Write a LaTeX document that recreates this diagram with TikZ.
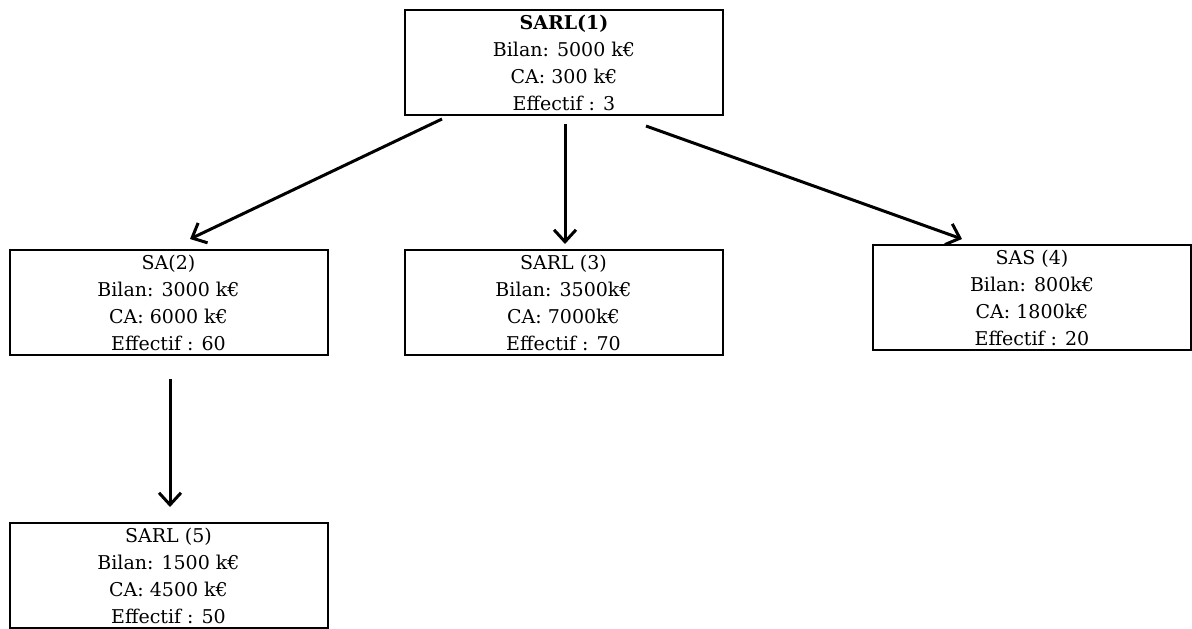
\documentclass[tikz,border=0pt]{standalone}
\usepackage{fontspec}
\setmainfont{DejaVu Serif}
\usetikzlibrary{arrows.meta,calc}
\tikzset{
  societe/.style={draw,line width=1pt,minimum width=159pt,minimum height=52.5pt,align=center,inner sep=2pt,font=\fontsize{9.5pt}{13.5pt}\selectfont},
  fleche/.style={line width=1.5pt,-{Straight Barb[length=6pt,width=11pt,line width=1.5pt]}}
}
\begin{document}
\begin{tikzpicture}[x=0.5pt,y=-0.5pt]
		\useasboundingbox (0,0) rectangle (1192,628);
		\node[societe](sarl1) at (564,62.5){\textbf{SARL(1)}\\Bilan: 5000 k€\\CA: 300 k€\\Effectif : 3};
		\node[societe](sa2) at (168.5,302.5){SA(2)\\Bilan: 3000 k€\\CA: 6000 k€\\Effectif : 60};
		\node[societe](sarl3) at (563.5,302.5){SARL (3)\\Bilan: 3500k€\\CA: 7000k€\\Effectif : 70};
		\node[societe](sas4) at (1032,297.5){SAS (4)\\Bilan: 800k€\\CA: 1800k€\\Effectif : 20};
		\node[societe](sarl5) at (168.5,575.5){SARL (5)\\Bilan: 1500 k€\\CA: 4500 k€\\Effectif : 50};
		\draw[fleche]($(sarl1.south west)+(38,3)$)--($(sa2.north)+(21.5,-10)$);
		\draw[fleche]($(sarl1.south)+(1,8)$)--($(sarl3.north)+(1.5,-5)$);
		\draw[fleche]($(sarl1.south east)+(-78,10)$)--($(sas4.north)+(-70,-5)$);
		\draw[fleche]($(sa2.south)+(1.5,23)$)--($(sarl5.north)+(1.5,-15)$);
	    \end{tikzpicture}
\end{document}
